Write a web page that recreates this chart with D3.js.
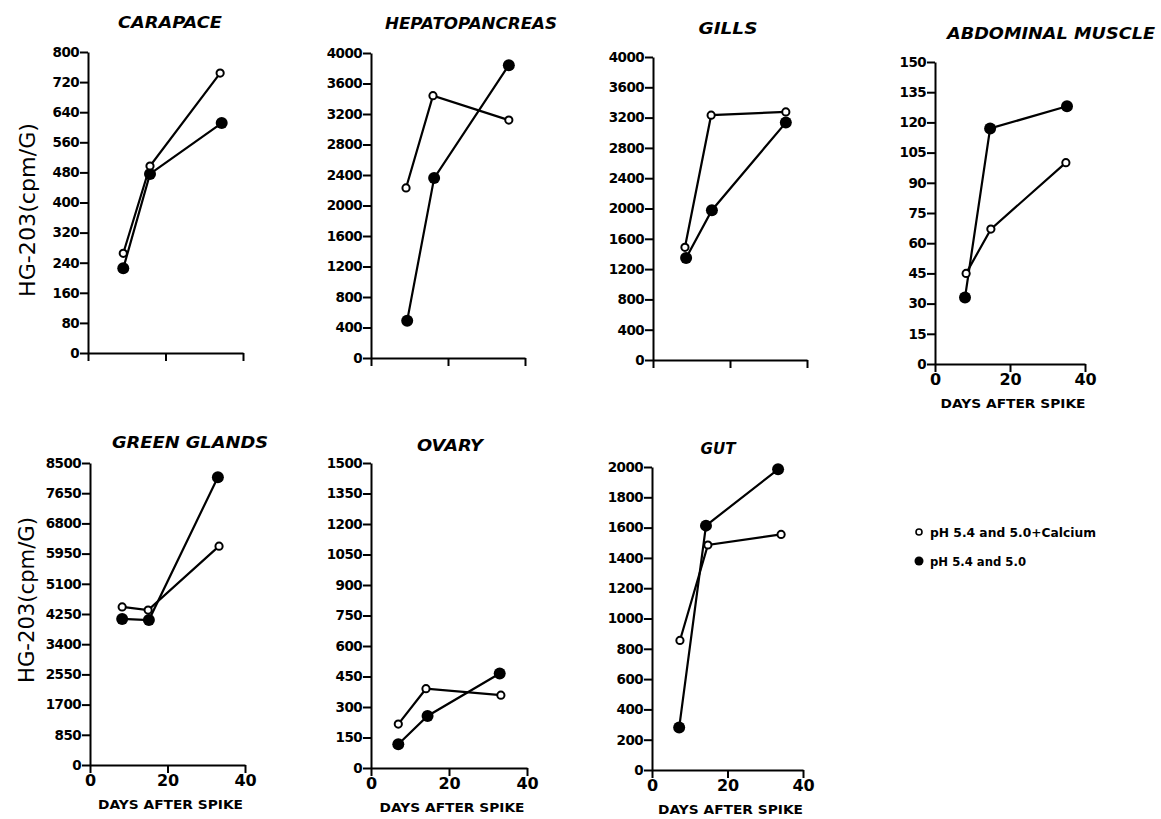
<!DOCTYPE html>
<html>
<head>
<meta charset="utf-8">
<script src="https://cdn.jsdelivr.net/npm/d3@7"></script>
<style>
  body { margin: 0; background: #fff; }
  svg { display: block; }
</style>
</head>
<body>
<div id="chart"></div>
<script>
// organ panels
const organs = ["CARAPACE", "HEPATOPANCREAS", "GILLS", "ABDOMINAL MUSCLE", "GREEN GLANDS", "OVARY", "GUT"];
const yMax = [800, 4000, 4000, 150, 8500, 1500, 2000];
const yStep = [80, 400, 400, 15, 850, 150, 200];
const xTicks = [0, 20, 40];

// pH 5.4 and 5.0 + Calcium (open circles)
const openDays = [[9.1, 16, 34.1], [9.1, 16.1, 35.8], [8.3, 15.1, 34.5], [8.3, 14.9, 34.9], [8.3, 15, 33.3], [7, 14.1, 33.3], [7.4, 14.8, 34.2]];
const openVals = [[265, 497, 744], [2230, 3440, 3120], [1488, 3232, 3275], [45, 67, 100], [4450, 4360, 6160], [216, 390, 358], [855, 1485, 1555]];
// pH 5.4 and 5.0 (filled circles)
const fillDays = [[9.1, 16, 34.5], [9.4, 16.4, 35.8], [8.6, 15.3, 34.5], [8, 14.7, 35.2], [8.3, 15.2, 33], [7, 14.5, 33], [7.2, 14.3, 33.4]];
const fillVals = [[225, 476, 611], [490, 2360, 3840], [1347, 1978, 3134], [33, 117, 128], [4110, 4080, 8100], [117, 256, 465], [280, 1613, 1985]];

const legendLabels = ["pH 5.4 and 5.0+Calcium", "pH 5.4 and 5.0"];
const yLabel = "HG-203(cpm/G)";
const xLabel = "DAYS AFTER SPIKE";

const W = 1161, H = 819;
const font = "'DejaVu Sans', sans-serif";

// plot boxes in pixels: x0 (day 0), x1 (day 40), top (max), bottom (0)
const boxes = [
  {x0: 88, x1: 243, top: 52, bottom: 353, tx: 170, ty: 28, tw: 104, xlab: false},
  {x0: 371, x1: 525, top: 53, bottom: 358, tx: 471, ty: 29, tw: 172, xlab: false},
  {x0: 653, x1: 807, top: 57, bottom: 360, tx: 728, ty: 34, tw: 59, xlab: false},
  {x0: 935, x1: 1085, top: 62, bottom: 364, tx: 1051, ty: 39, tw: 208, xlab: true},
  {x0: 90, x1: 245, top: 463, bottom: 765, tx: 190, ty: 448, tw: 156, xlab: true},
  {x0: 371, x1: 527, top: 463, bottom: 768, tx: 450, ty: 451, tw: 66, xlab: true},
  {x0: 652, x1: 803, top: 467, bottom: 770, tx: 718, ty: 454, tw: 35, xlab: true}
];

const svg = d3.select("#chart").append("svg")
    .attr("width", W)
    .attr("height", H)
    .style("font-family", font);

organs.forEach(function(name, i) {
    const b = boxes[i];
    const x = d3.scaleLinear().domain([0, 40]).range([b.x0, b.x1]);
    const y = d3.scaleLinear().domain([0, yMax[i]]).range([b.bottom, b.top]);
    const g = svg.append("g");

    // y axis
    const yAxis = d3.axisLeft(y)
        .tickValues(d3.range(0, yMax[i] + yStep[i] / 2, yStep[i]))
        .tickFormat(d3.format("d"))
        .tickSize(8)
        .tickSizeOuter(0)
        .tickPadding(1);
    const ya = g.append("g")
        .attr("transform", `translate(${b.x0},0)`)
        .call(yAxis);

    // x axis
    const xAxis = d3.axisBottom(x)
        .tickValues(xTicks)
        .tickSize(8)
        .tickSizeOuter(0)
        .tickPadding(2)
        .tickFormat(b.xlab ? d3.format("d") : "");
    const xa = g.append("g")
        .attr("transform", `translate(0,${b.bottom})`)
        .call(xAxis);

    [ya, xa].forEach(function(a) {
        a.selectAll("path, line").attr("stroke", "#000").attr("stroke-width", 2);
        a.selectAll("text").attr("fill", "#000").attr("font-weight", "bold")
            .attr("font-family", font);
    });
    ya.selectAll("text").attr("font-size", 13.5).attr("letter-spacing", -0.6);
    xa.selectAll("text").attr("font-size", 16);

    if (b.xlab) {
        g.append("text")
            .attr("x", (b.x0 + b.x1) / 2 + 3)
            .attr("y", b.bottom + 44)
            .attr("text-anchor", "middle")
            .attr("font-size", 13)
            .attr("font-weight", "bold")
            .attr("textLength", 145)
            .attr("lengthAdjust", "spacingAndGlyphs")
            .text(xLabel);
    }

    // title
    g.append("text")
        .attr("x", b.tx)
        .attr("y", b.ty)
        .attr("text-anchor", "middle")
        .attr("font-size", 16)
        .attr("font-weight", "bold")
        .attr("font-style", "italic")
        .attr("textLength", b.tw)
        .attr("lengthAdjust", "spacingAndGlyphs")
        .text(name);

    const line = d3.line().x(d => x(d[0])).y(d => y(d[1]));
    const openPts = d3.zip(openDays[i], openVals[i]);
    const fillPts = d3.zip(fillDays[i], fillVals[i]);

    g.append("path").datum(fillPts)
        .attr("d", line).attr("fill", "none")
        .attr("stroke", "#000").attr("stroke-width", 2.2);
    g.append("path").datum(openPts)
        .attr("d", line).attr("fill", "none")
        .attr("stroke", "#000").attr("stroke-width", 2.2);

    g.selectAll(".fdot").data(fillPts).enter().append("circle")
        .attr("cx", d => x(d[0]))
        .attr("cy", d => y(d[1]))
        .attr("r", 6)
        .attr("fill", "#000");
    g.selectAll(".odot").data(openPts).enter().append("circle")
        .attr("cx", d => x(d[0]))
        .attr("cy", d => y(d[1]))
        .attr("r", 3.6)
        .attr("fill", "#fff")
        .attr("stroke", "#000")
        .attr("stroke-width", 2);
});

// y axis titles, left column only
[{x: 35, y: 210, len: 174}, {x: 34, y: 600, len: 166}].forEach(function(p) {
    svg.append("text")
        .attr("transform", `translate(${p.x},${p.y}) rotate(-90)`)
        .attr("text-anchor", "middle")
        .attr("font-size", 21)
        .attr("textLength", p.len)
        .attr("lengthAdjust", "spacingAndGlyphs")
        .text(yLabel);
});

// legend
const legend = svg.append("g").attr("transform", "translate(919,532)");
legendLabels.forEach(function(lab, k) {
    const row = legend.append("g").attr("transform", `translate(0,${k * 29})`);
    row.append("circle")
        .attr("r", k === 0 ? 3 : 4.5)
        .attr("fill", k === 0 ? "#fff" : "#000")
        .attr("stroke", "#000")
        .attr("stroke-width", k === 0 ? 1.6 : 0);
    row.append("text")
        .attr("x", 11)
        .attr("y", 5)
        .attr("font-size", 13)
        .attr("font-weight", "bold")
        .attr("textLength", k === 0 ? 166 : 96)
        .attr("lengthAdjust", "spacingAndGlyphs")
        .text(lab);
});
</script>
</body>
</html>
